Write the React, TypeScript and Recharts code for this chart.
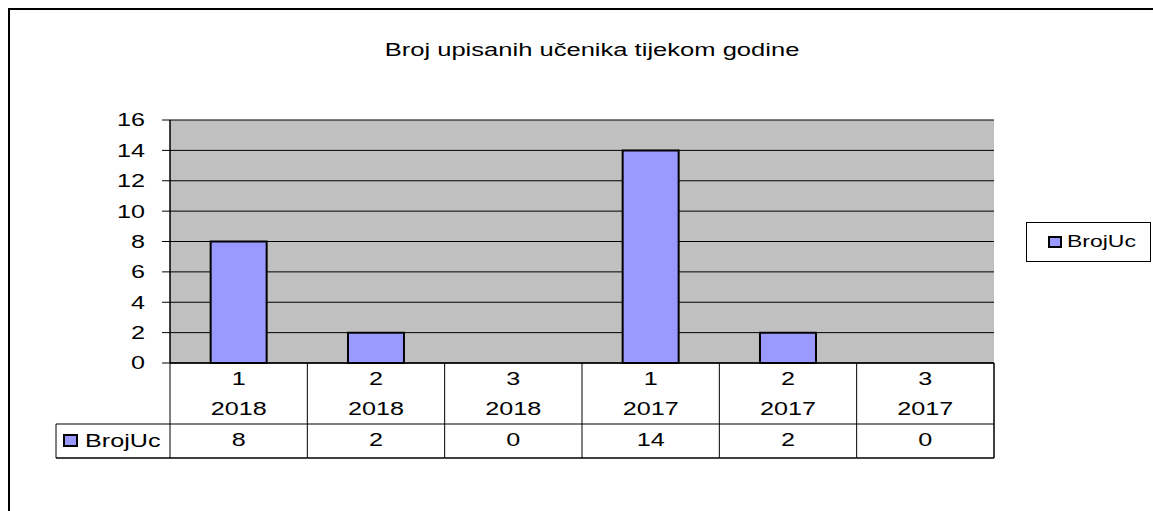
import React from 'react';
import { BarChart, Bar, XAxis, YAxis, CartesianGrid, Legend } from 'recharts';

// ---- data ----
const periods = ['1', '2', '3', '1', '2', '3'];
const years = ['2018', '2018', '2018', '2017', '2017', '2017'];
const brojUc = [8, 2, 0, 14, 2, 0];
const yTicks = [0, 2, 4, 6, 8, 10, 12, 14, 16];
const seriesName = 'BrojUc';
const title = 'Broj upisanih učenika tijekom godine';

const data = periods.map((p, i) => ({
  key: `${p}-${years[i]}-${i}`,
  period: p,
  year: years[i],
  BrojUc: brojUc[i],
}));

// ---- layout ----
const W = 1143;
const H = 501;
const M = { top: 110, right: 159, bottom: 48, left: 0 };
const YW = 160;
const XH = 100;
const PLOT_W = W - M.left - M.right - YW;
const BAND = PLOT_W / data.length;
const FONT = '"Liberation Sans", Arial, Helvetica, sans-serif';
const FS = 18;
const SX = 1.4;
const BAR_FILL = '#9999FF';
const ROW1 = 61;
const ROW2 = 95;
const KEY_W = 114;

const STxt = ({ x, y, anchor, children }: any) => (
  <text
    transform={`translate(${x},${y}) scale(${SX},1)`}
    textAnchor={anchor}
    dy="0.36em"
    fontFamily={FONT}
    fontSize={FS}
    fill="#000"
  >
    {children}
  </text>
);

const YTick = (props: any) => {
  const { x, y, payload } = props;
  return <STxt x={x} y={y} anchor="end">{payload.value}</STxt>;
};

const XTick = (props: any) => {
  const { x, y, payload } = props;
  const idx = data.findIndex((d) => d.key === payload.value);
  const d = data[idx];
  if (!d) return null;
  const half = BAND / 2;
  const left = x - half;
  const right = x + half;
  const last = idx === data.length - 1;
  return (
    <g>
      <line x1={left} y1={y} x2={left} y2={y + ROW2} stroke="#000" strokeWidth={1} />
      {last && <line x1={right} y1={y} x2={right} y2={y + ROW2} stroke="#000" strokeWidth={1.5} />}
      <line x1={left} y1={y + ROW1} x2={right} y2={y + ROW1} stroke="#000" strokeWidth={1} />
      <line x1={left} y1={y + ROW2} x2={right} y2={y + ROW2} stroke="#000" strokeWidth={1.5} />
      <STxt x={x} y={y + 15.7} anchor="middle">{d.period}</STxt>
      <STxt x={x} y={y + 45.7} anchor="middle">{d.year}</STxt>
      <STxt x={x} y={y + 77} anchor="middle">{String(d.BrojUc)}</STxt>
      {idx === 0 && (
        <g>
          <line x1={left - KEY_W} y1={y + ROW1} x2={left} y2={y + ROW1} stroke="#000" strokeWidth={1} />
          <line x1={left - KEY_W} y1={y + ROW2} x2={left} y2={y + ROW2} stroke="#000" strokeWidth={1.5} />
          <line x1={left - KEY_W} y1={y + ROW1} x2={left - KEY_W} y2={y + ROW2} stroke="#000" strokeWidth={1} />
          <rect
            x={left - KEY_W + 8}
            y={y + ROW1 + 11}
            width={13}
            height={11}
            fill={BAR_FILL}
            stroke="#000"
            strokeWidth={2}
          />
          <STxt x={left - KEY_W + 29} y={y + ROW1 + 17} anchor="start">{seriesName}</STxt>
        </g>
      )}
    </g>
  );
};

const LegendBox = () => (
  <div
    style={{
      boxSizing: 'border-box',
      width: 125,
      height: 40,
      border: '1px solid #000',
      position: 'relative',
      background: '#fff',
      fontFamily: FONT,
    }}
  >
    <div
      style={{
        position: 'absolute',
        left: 21,
        top: 13,
        width: 14,
        height: 12,
        boxSizing: 'border-box',
        background: BAR_FILL,
        border: '2px solid #000',
      }}
    />
    <span
      style={{
        position: 'absolute',
        left: 40,
        top: 0,
        lineHeight: '38px',
        fontSize: 17,
        color: '#000',
        transform: 'scaleX(1.35)',
        transformOrigin: 'left center',
        whiteSpace: 'nowrap',
      }}
    >
      {seriesName}
    </span>
  </div>
);

export default function App() {
  return (
    <div
      style={{
        width: 1153,
        height: 511,
        boxSizing: 'border-box',
        paddingLeft: 8,
        paddingTop: 8,
        overflow: 'hidden',
        background: '#fff',
      }}
    >
      <style>{'html,body{margin:0;padding:0;overflow:hidden;}'}</style>
      <div
        style={{
          position: 'relative',
          width: 1145,
          height: 503,
          boxSizing: 'border-box',
          borderTop: '2px solid #000',
          borderLeft: '2px solid #000',
          background: '#fff',
        }}
      >
        <BarChart
          width={W}
          height={H}
          data={data}
          margin={M}
          barCategoryGap="29.6%"
        >
          <CartesianGrid
            horizontal
            vertical={false}
            fill="#C0C0C0"
            fillOpacity={1}
            stroke="#000"
            strokeOpacity={1}
          />
          <XAxis
            dataKey="key"
            height={XH}
            interval={0}
            tickSize={0}
            tickMargin={0}
            tickLine={false}
            axisLine={{ stroke: '#000', strokeWidth: 1.5 }}
            tick={XTick}
          />
          <XAxis
            xAxisId="top"
            dataKey="key"
            orientation="top"
            height={0}
            tick={false}
            tickLine={false}
            axisLine={{ stroke: '#808080', strokeWidth: 2 }}
          />
          <YAxis
            width={YW}
            domain={[0, 16]}
            ticks={yTicks}
            interval={0}
            tickSize={8}
            tickMargin={17}
            tickLine={{ stroke: '#000' }}
            axisLine={{ stroke: '#000', strokeWidth: 1.5 }}
            tick={YTick}
          />
          <YAxis
            yAxisId="right"
            orientation="right"
            width={0}
            domain={[0, 16]}
            tick={false}
            tickLine={false}
            axisLine={{ stroke: '#808080', strokeWidth: 2 }}
          />
          <Legend
            layout="vertical"
            align="center"
            verticalAlign="middle"
            wrapperStyle={{ position: 'absolute', left: 1016, top: 212, width: 125, height: 40 }}
            content={LegendBox}
          />
          <Bar
            dataKey="BrojUc"
            name={seriesName}
            fill={BAR_FILL}
            stroke="#000"
            strokeWidth={2}
            isAnimationActive={false}
          />
        </BarChart>
        <div
          style={{
            position: 'absolute',
            left: 181.5,
            top: 32,
            width: 800,
            textAlign: 'center',
            fontFamily: FONT,
            fontSize: 17.5,
            lineHeight: '17.5px',
            color: '#000',
            transform: 'scaleX(1.46)',
            transformOrigin: 'center',
            whiteSpace: 'nowrap',
          }}
        >
          {title}
        </div>
      </div>
    </div>
  );
}
